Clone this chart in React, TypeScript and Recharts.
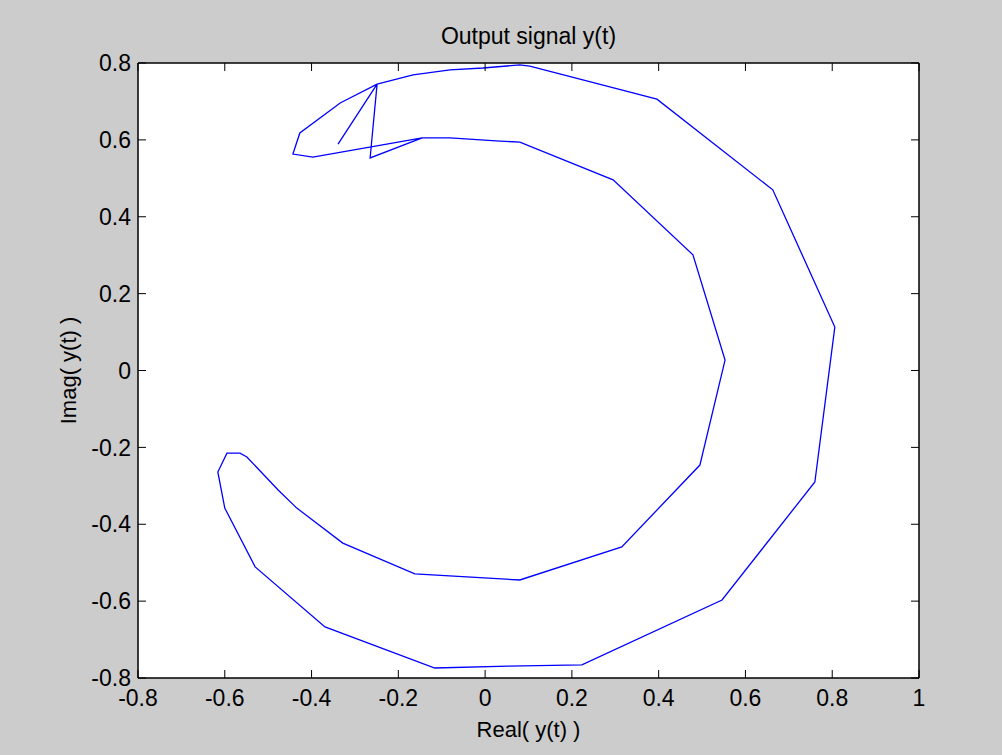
import React from 'react';
import { LineChart, Line, XAxis, YAxis, CartesianGrid } from 'recharts';

// path of y(t) in the complex plane, in drawing order
const realPart = [
  -0.339, -0.249, -0.265, -0.145, -0.397, -0.443, -0.427, -0.334, -0.249, -0.166,
  -0.081, -0.005, 0.08, 0.103, 0.396, 0.663, 0.806, 0.76, 0.546, 0.223,
  0.053, -0.116, -0.369, -0.53, -0.6, -0.616, -0.595, -0.565, -0.549, -0.477,
  -0.434, -0.328, -0.162, -0.042, 0.08, 0.315, 0.495, 0.553, 0.479, 0.295,
  0.08, 0.034, -0.081, -0.145,
];
const imagPart = [
  0.589, 0.745, 0.553, 0.605, 0.555, 0.563, 0.618, 0.696, 0.745, 0.769,
  0.782, 0.787, 0.795, 0.792, 0.706, 0.47, 0.113, -0.29, -0.597, -0.766,
  -0.769, -0.774, -0.667, -0.511, -0.358, -0.264, -0.215, -0.215, -0.225, -0.311,
  -0.358, -0.449, -0.529, -0.537, -0.545, -0.459, -0.246, 0.027, 0.301, 0.496,
  0.594, 0.597, 0.605, 0.605,
];

const xTicks = [-0.8, -0.6, -0.4, -0.2, 0, 0.2, 0.4, 0.6, 0.8, 1];
const yTicks = [-0.8, -0.6, -0.4, -0.2, 0, 0.2, 0.4, 0.6, 0.8];

const data = realPart.map((re, i) => ({ re, im: imagPart[i] }));

const font = '"Liberation Sans", Arial, sans-serif';
const tickStyle = { fontSize: 23, fill: '#000', fontFamily: font };
const frame = { stroke: '#000', strokeWidth: 1.5 };
const noLabel = () => '';

export default function App() {
  return (
    <div style={{ position: 'absolute', left: 0, top: 0, width: 1002, height: 755, background: '#cccccc' }}>
      <div
        style={{
          position: 'absolute', left: 138, top: 25, width: 781, textAlign: 'center',
          fontFamily: font, fontSize: 23, lineHeight: '23px', color: '#000',
        }}
      >
        Output signal y(t)
      </div>
      <div style={{ position: 'absolute', left: 0, top: 0 }}>
        <LineChart width={1002} height={755} data={data} margin={{ top: 62, right: 82, bottom: 0, left: 0 }}>
          <CartesianGrid fill="#ffffff" fillOpacity={1} stroke="none" horizontal={false} vertical={false} />
          <XAxis
            xAxisId="bottom"
            dataKey="re"
            type="number"
            domain={[-0.8, 1]}
            ticks={xTicks}
            allowDataOverflow
            height={77}
            tickSize={-8}
            tickMargin={20}
            tick={tickStyle}
            axisLine={frame}
            tickLine={{ stroke: '#000' }}
            label={{ value: 'Real( y(t) )', position: 'insideBottom', offset: 18, fontSize: 22, fill: '#000', fontFamily: font }}
          />
          <XAxis
            xAxisId="top"
            orientation="top"
            dataKey="re"
            type="number"
            domain={[-0.8, 1]}
            ticks={xTicks}
            allowDataOverflow
            height={1}
            tickSize={-8}
            tickFormatter={noLabel}
            axisLine={frame}
            tickLine={{ stroke: '#000' }}
          />
          <YAxis
            yAxisId="left"
            dataKey="im"
            type="number"
            domain={[-0.8, 0.8]}
            ticks={yTicks}
            allowDataOverflow
            width={138}
            tickSize={-8}
            tickMargin={15}
            tick={tickStyle}
            axisLine={frame}
            tickLine={{ stroke: '#000' }}
            label={{
              value: 'Imag( y(t) )', angle: -90, position: 'insideLeft', offset: 68,
              fontSize: 22, fill: '#000', fontFamily: font, style: { textAnchor: 'middle' },
            }}
          />
          <YAxis
            yAxisId="right"
            orientation="right"
            dataKey="im"
            type="number"
            domain={[-0.8, 0.8]}
            ticks={yTicks}
            allowDataOverflow
            width={1}
            tickSize={-8}
            tickFormatter={noLabel}
            axisLine={frame}
            tickLine={{ stroke: '#000' }}
          />
          <Line
            xAxisId="bottom"
            yAxisId="left"
            dataKey="im"
            type="linear"
            stroke="#0000ff"
            strokeWidth={1.3}
            dot={false}
            activeDot={false}
            isAnimationActive={false}
          />
        </LineChart>
      </div>
    </div>
  );
}
